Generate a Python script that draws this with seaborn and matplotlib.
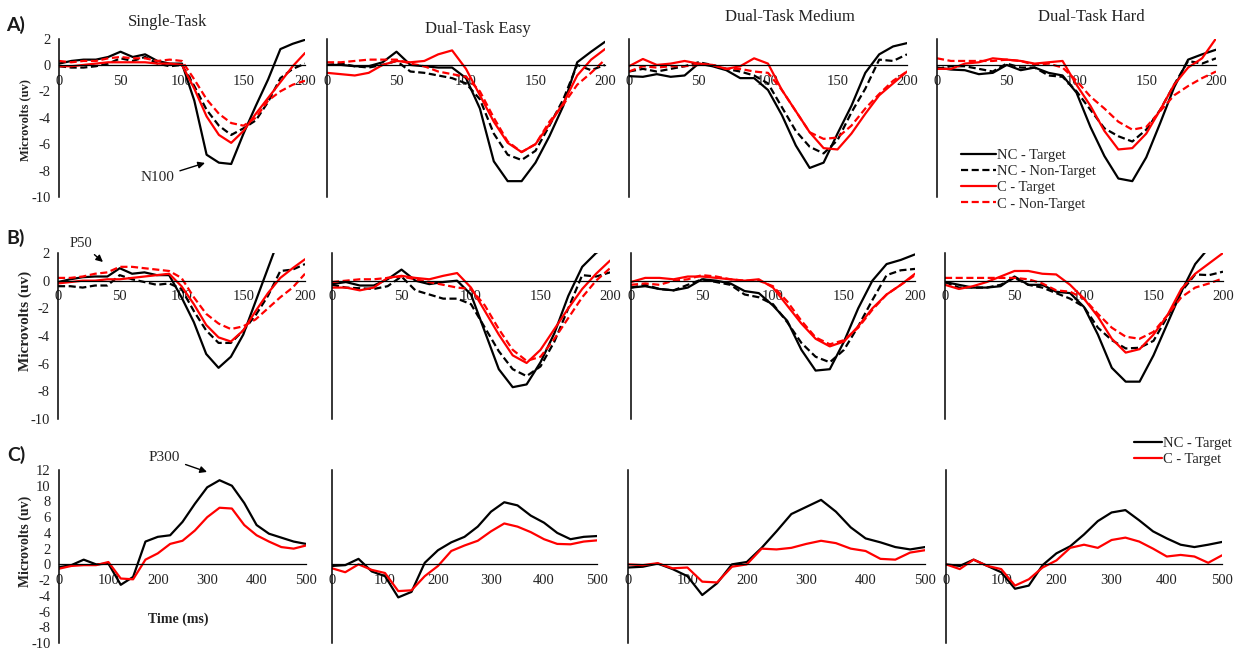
import numpy as np
import pandas as pd
import matplotlib
matplotlib.use("Agg")
import matplotlib.pyplot as plt
import seaborn as sns
from matplotlib.lines import Line2D

sns.set_theme(style="white")
plt.rcParams['font.family'] = ['Liberation Serif', 'DejaVu Serif']
plt.rcParams['axes.unicode_minus'] = False

# ---------------- data ----------------
t_short = np.arange(0, 201, 10)      # ms, rows A and B
t_long = np.arange(0, 501, 25)       # ms, row C

titles = ["Single-Task", "Dual-Task Easy", "Dual-Task Medium", "Dual-Task Hard"]
groups4 = ["NC - Target", "NC - Non-Target", "C - Target", "C - Non-Target"]
groups2 = ["NC - Target", "C - Target"]
x_ticks_short = [0, 50, 100, 150, 200]
x_ticks_long = [0, 100, 200, 300, 400, 500]

# Row A (N100)
a1_nc_t = [0.1, 0.3, 0.4, 0.4, 0.6, 1.0, 0.6, 0.8, 0.3, 0.1, 0.1, -2.7, -6.8, -7.4, -7.5, -5.2, -3.1, -1.1, 1.2, 1.6, 1.9]
a1_nc_nt = [-0.1, -0.2, -0.2, -0.1, 0.1, 0.5, 0.3, 0.6, 0.1, -0.1, 0.0, -1.6, -3.4, -4.6, -5.3, -4.8, -4.2, -2.8, -1.0, -0.3, 0.1]
a1_c_t = [-0.1, -0.1, 0.0, 0.1, 0.2, 0.2, 0.2, 0.2, 0.1, 0.1, 0.0, -1.8, -3.9, -5.3, -5.9, -5.0, -3.7, -2.5, -1.3, -0.1, 0.9]
a1_c_nt = [0.3, 0.2, 0.3, 0.3, 0.5, 0.6, 0.5, 0.5, 0.3, 0.4, 0.3, -1.1, -2.6, -3.7, -4.4, -4.6, -4.0, -2.7, -2.0, -1.5, -1.2]

a2_nc_t = [0.0, 0.0, -0.1, -0.1, 0.2, 1.0, 0.0, -0.1, -0.2, -0.2, -1.0, -3.3, -7.3, -8.8, -8.8, -7.4, -5.4, -3.1, 0.2, 1.0, 1.75]
a2_nc_nt = [0.0, 0.1, -0.1, -0.2, 0.0, 0.3, -0.5, -0.6, -0.8, -1.0, -1.4, -2.6, -5.2, -6.8, -7.2, -6.5, -4.6, -2.6, 0.0, -0.4, 0.0]
a2_c_t = [-0.6, -0.7, -0.8, -0.6, 0.0, 0.3, 0.2, 0.3, 0.8, 1.1, -0.3, -2.3, -4.3, -5.9, -6.6, -6.0, -4.5, -2.9, -0.8, 0.4, 1.2]
a2_c_nt = [0.2, 0.2, 0.3, 0.4, 0.4, 0.4, 0.1, -0.1, -0.5, -0.7, -0.9, -2.0, -4.0, -5.8, -6.6, -6.0, -4.3, -3.0, -1.5, -0.6, 0.4]

a3_nc_t = [-0.85, -0.9, -0.7, -0.9, -0.8, 0.1, -0.1, -0.4, -1.0, -1.0, -1.9, -3.8, -6.1, -7.8, -7.4, -5.2, -3.1, -0.6, 0.8, 1.4, 1.65]
a3_nc_nt = [-0.5, -0.3, -0.5, -0.3, -0.1, 0.2, 0.0, -0.3, -0.5, -0.8, -1.4, -3.2, -5.0, -6.2, -6.7, -5.7, -3.6, -1.8, 0.4, 0.3, 0.8]
a3_c_t = [-0.1, 0.45, 0.0, 0.1, 0.3, 0.1, 0.0, -0.3, -0.1, 0.5, 0.1, -1.9, -3.5, -5.1, -6.3, -6.4, -5.2, -3.7, -2.3, -1.4, -0.5]
a3_c_nt = [-0.5, -0.1, -0.2, -0.1, -0.1, 0.0, 0.0, -0.3, -0.3, -0.5, -0.6, -1.9, -3.5, -5.1, -5.6, -5.5, -4.6, -3.3, -2.2, -1.2, -0.5]

a4_nc_t = [-0.2, -0.35, -0.4, -0.7, -0.6, 0.0, -0.4, -0.2, -0.6, -0.8, -2.1, -4.7, -6.9, -8.6, -8.8, -7.0, -4.4, -1.7, 0.4, 0.8, 1.15]
a4_nc_nt = [-0.3, -0.1, -0.1, -0.3, -0.5, 0.1, -0.2, -0.2, -0.8, -0.9, -2.0, -3.4, -4.8, -5.4, -5.8, -4.9, -3.4, -1.5, 0.3, 0.1, 0.5]
a4_c_t = [-0.3, -0.3, 0.1, 0.2, 0.5, 0.4, 0.3, 0.1, 0.2, 0.3, -1.5, -3.1, -5.0, -6.4, -6.3, -5.2, -3.4, -1.5, -0.2, 0.5, 2.0]
a4_c_nt = [0.5, 0.3, 0.3, 0.3, 0.3, 0.4, 0.3, 0.0, 0.1, -0.2, -1.2, -2.4, -3.3, -4.3, -4.9, -4.7, -3.5, -2.3, -1.6, -1.0, -0.5]

# Row B (P50)
b1_nc_t = [-0.1, 0.1, 0.25, 0.3, 0.3, 0.9, 0.5, 0.6, 0.4, 0.4, -1.2, -3.0, -5.3, -6.3, -5.5, -3.9, -1.5, 0.9, 3.3, np.nan, np.nan]
b1_nc_nt = [-0.4, -0.4, -0.5, -0.35, -0.35, 0.4, 0.1, -0.1, -0.3, -0.2, -0.6, -2.2, -3.6, -4.5, -4.5, -3.6, -2.5, -1.1, 0.7, 0.8, 1.2]
b1_c_t = [-0.2, -0.1, 0.0, 0.0, 0.1, 0.1, 0.2, 0.3, 0.4, 0.5, -0.4, -1.7, -3.2, -4.1, -4.4, -3.6, -2.2, -0.9, 0.2, 0.9, 1.55]
b1_c_nt = [0.2, 0.2, 0.3, 0.5, 0.6, 1.0, 1.0, 0.9, 0.8, 0.7, 0.2, -1.2, -2.4, -3.1, -3.5, -3.3, -2.8, -2.0, -1.2, -0.5, 0.5]

b2_nc_t = [-0.25, -0.1, -0.35, -0.35, 0.1, 0.8, 0.0, -0.25, -0.1, 0.0, -1.0, -3.7, -6.4, -7.7, -7.5, -5.9, -3.8, -1.1, 1.0, 2.0, 2.6]
b2_nc_nt = [-0.3, -0.5, -0.55, -0.6, -0.4, 0.3, -0.7, -1.0, -1.3, -1.3, -1.7, -3.4, -5.1, -6.4, -6.9, -6.2, -4.4, -2.0, 0.4, 0.3, 0.6]
b2_c_t = [-0.5, -0.5, -0.7, -0.5, 0.2, 0.35, 0.2, 0.1, 0.35, 0.55, -0.5, -2.2, -3.9, -5.4, -5.95, -5.0, -3.5, -2.0, -0.6, 0.5, 1.45]
b2_c_nt = [-0.1, 0.0, 0.1, 0.1, 0.2, 0.3, 0.1, -0.1, -0.3, -0.5, -0.6, -1.8, -3.5, -5.0, -5.8, -5.5, -4.2, -2.7, -1.2, 0.0, 0.9]

b3_nc_t = [-0.5, -0.4, -0.6, -0.7, -0.5, 0.1, 0.0, -0.2, -0.75, -0.9, -1.8, -2.9, -5.0, -6.5, -6.4, -4.4, -2.0, 0.0, 1.2, 1.5, 1.9]
b3_nc_nt = [-0.5, -0.3, -0.6, -0.7, -0.3, 0.1, -0.1, -0.3, -1.0, -1.2, -1.7, -3.0, -4.5, -5.5, -5.9, -5.0, -3.3, -1.4, 0.4, 0.75, 0.85]
b3_c_t = [-0.1, 0.2, 0.2, 0.1, 0.3, 0.3, 0.2, 0.1, 0.0, 0.1, -0.5, -1.8, -3.1, -4.2, -4.75, -4.4, -3.3, -2.0, -1.0, -0.3, 0.5]
b3_c_nt = [-0.3, -0.2, -0.3, 0.0, 0.1, 0.4, 0.3, 0.1, 0.0, 0.0, -0.4, -1.5, -2.9, -4.1, -4.6, -4.3, -3.4, -2.1, -1.0, -0.3, 0.4]

b4_nc_t = [-0.1, -0.3, -0.5, -0.5, -0.4, 0.3, -0.3, -0.3, -0.8, -0.9, -1.9, -3.9, -6.3, -7.3, -7.3, -5.4, -3.1, -0.8, 1.2, 2.4, np.nan]
b4_nc_nt = [-0.1, -0.5, -0.5, -0.5, -0.3, 0.2, -0.3, -0.5, -0.9, -1.3, -1.9, -3.4, -4.3, -4.9, -4.85, -4.35, -2.6, -0.8, 0.45, 0.4, 0.65]
b4_c_t = [-0.3, -0.6, -0.4, -0.1, 0.3, 0.7, 0.7, 0.5, 0.45, -0.3, -1.3, -2.6, -4.2, -5.2, -4.95, -3.9, -2.5, -0.6, 0.5, 1.25, 2.0]
b4_c_nt = [0.2, 0.2, 0.2, 0.2, 0.2, 0.2, 0.1, -0.2, -0.7, -0.8, -1.3, -2.4, -3.4, -4.05, -4.2, -3.7, -2.5, -1.2, -0.5, -0.2, 0.17]

# Row C (P300)
c1_nc_t = [-0.35, -0.1, 0.6, 0.0, 0.1, -2.6, -1.6, 2.9, 3.5, 3.7, 5.4, 7.7, 9.8, 10.7, 10.0, 7.8, 5.0, 3.9, 3.4, 2.9, 2.6]
c1_c_t = [-0.55, -0.2, -0.1, -0.1, 0.3, -1.8, -1.9, 0.6, 1.4, 2.6, 3.0, 4.3, 6.0, 7.2, 7.1, 5.0, 3.7, 2.9, 2.2, 2.0, 2.4]
c2_nc_t = [-0.2, -0.1, 0.7, -0.9, -1.5, -4.2, -3.5, 0.2, 1.8, 2.8, 3.5, 4.8, 6.7, 7.9, 7.5, 6.2, 5.3, 4.0, 3.2, 3.5, 3.6]
c2_c_t = [-0.5, -1.0, 0.0, -0.7, -1.1, -3.4, -3.3, -1.5, -0.2, 1.7, 2.4, 3.0, 4.2, 5.2, 4.8, 4.1, 3.2, 2.6, 2.55, 2.9, 3.05]
c3_nc_t = [-0.4, -0.3, 0.1, -0.6, -1.5, -3.9, -2.4, 0.0, 0.3, 2.1, 4.2, 6.4, 7.3, 8.2, 6.7, 4.7, 3.3, 2.8, 2.2, 1.9, 2.2]
c3_c_t = [0.0, -0.1, 0.15, -0.5, -0.4, -2.2, -2.3, -0.3, 0.0, 2.0, 1.9, 2.1, 2.6, 3.0, 2.7, 2.0, 1.7, 0.7, 0.6, 1.5, 1.8]
c4_nc_t = [0.0, -0.2, 0.6, -0.2, -1.0, -3.1, -2.7, -0.1, 1.4, 2.3, 3.8, 5.5, 6.6, 6.9, 5.6, 4.2, 3.3, 2.5, 2.2, 2.5, 2.85]
c4_c_t = [0.0, -0.6, 0.6, -0.2, -0.6, -2.7, -1.9, -0.4, 0.5, 2.1, 2.5, 2.1, 3.1, 3.4, 2.9, 2.0, 1.0, 1.2, 1.0, 0.2, 1.15]

row_a = [[a1_nc_t, a1_nc_nt, a1_c_t, a1_c_nt], [a2_nc_t, a2_nc_nt, a2_c_t, a2_c_nt],
         [a3_nc_t, a3_nc_nt, a3_c_t, a3_c_nt], [a4_nc_t, a4_nc_nt, a4_c_t, a4_c_nt]]
row_b = [[b1_nc_t, b1_nc_nt, b1_c_t, b1_c_nt], [b2_nc_t, b2_nc_nt, b2_c_t, b2_c_nt],
         [b3_nc_t, b3_nc_nt, b3_c_t, b3_c_nt], [b4_nc_t, b4_nc_nt, b4_c_t, b4_c_nt]]
row_c = [[c1_nc_t, c1_c_t], [c2_nc_t, c2_c_t], [c3_nc_t, c3_c_t], [c4_nc_t, c4_c_t]]

# ---------------- styling ----------------
palette = {"NC - Target": "#000000", "NC - Non-Target": "#000000",
           "C - Target": "#ff0000", "C - Non-Target": "#ff0000"}
DASH = (3.2, 1.6)
dashes = {"NC - Target": "", "NC - Non-Target": DASH,
          "C - Target": "", "C - Non-Target": DASH}
LW = 1.6
W, H = 1239.0, 651.0
SERIF = ['Liberation Serif', 'DejaVu Serif']

fig = plt.figure(figsize=(W / 100, H / 100), dpi=100)

layout = [
    dict(top=38.5, bottom=197, cols=[(59, 305), (327, 605), (629, 907), (937, 1216)]),
    dict(top=253, bottom=419, cols=[(58, 305), (332, 610), (631, 915), (945, 1223)]),
    dict(top=470, bottom=643, cols=[(59, 306), (332, 597), (628, 925), (946, 1222)]),
]


def make_ax(lpx, rpx, top, bottom):
    return fig.add_axes([lpx / W, 1 - bottom / H, (rpx - lpx) / W, (bottom - top) / H])


def style_ax(ax, xmax, xticks, ylo, yhi, first, ticks_x):
    ax.set_xlim(0, xmax)
    ax.set_ylim(ylo, yhi)
    ax.patch.set_alpha(0)
    for s in ["top", "right"]:
        ax.spines[s].set_visible(False)
    ax.spines["bottom"].set_position(("data", 0))
    ax.spines["bottom"].set_linewidth(0.9)
    ax.spines["left"].set_linewidth(1.1)
    ax.spines["bottom"].set_color("black")
    ax.spines["left"].set_color("black")
    ax.set_xticks(xticks)
    ax.set_yticks(np.arange(ylo, yhi + 1, 2))
    ax.tick_params(axis="y", direction="out", length=4, width=1.0, pad=2,
                   labelsize=10.5, labelleft=first, colors="#222222")
    ax.tick_params(axis="x", direction="in", length=3 if ticks_x else 0, width=0.9,
                   pad=7, labelsize=10.5, colors="#222222")
    ax.set_xlabel("")
    ax.set_ylabel("")


def draw_panel(ax, t, series, groups):
    df = pd.DataFrame({
        "time": np.tile(t, len(groups)),
        "uv": np.concatenate([np.asarray(s, dtype=float) for s in series]),
        "group": np.repeat(groups, len(t)),
    })
    sns.lineplot(data=df, x="time", y="uv", hue="group", style="group",
                 hue_order=groups, style_order=groups,
                 palette={g: palette[g] for g in groups},
                 dashes={g: dashes[g] for g in groups},
                 linewidth=LW, errorbar=None, legend=False, ax=ax)


axes = []
for r, (spec, data) in enumerate(zip(layout, [row_a, row_b, row_c])):
    row_axes = []
    for c, (lp, rp) in enumerate(spec["cols"]):
        ax = make_ax(lp, rp, spec["top"], spec["bottom"])
        if r < 2:
            draw_panel(ax, t_short, data[c], groups4)
            style_ax(ax, 200, x_ticks_short, -10, 2, c == 0, False)
        else:
            draw_panel(ax, t_long, data[c], groups2)
            style_ax(ax, 500, x_ticks_long, -10, 12, c == 0, True)
        row_axes.append(ax)
    axes.append(row_axes)

# titles (row A only)
title_pos = [(168, 22), (478, 29), (790, 17), (1091, 17)]
for ttl, (px, py) in zip(titles, title_pos):
    fig.text(px / W, 1 - py / H, ttl, ha="center", va="center", fontsize=12,
             family=SERIF, color="#222222")

# row letters
for lab, py in zip(["A)", "B)", "C)"], [25, 238, 455]):
    fig.text(16 / W, 1 - py / H, lab, ha="center", va="center", fontsize=14,
             fontweight="bold", family=["Lato", "DejaVu Sans"], color="#1a1a1a")

# y labels
for py, fs in zip([120, 321, 541], [9, 11, 10]):
    fig.text(25 / W, 1 - py / H, "Microvolts (uv)", rotation=90, ha="center", va="center",
             fontsize=fs, fontweight="bold", family=SERIF, color="#222222")

fig.text(178 / W, 1 - 619 / H, "Time (ms)", ha="center", va="center", fontsize=10,
         fontweight="bold", family=SERIF, color="#222222")

# annotations
arrow = dict(arrowstyle="-|>", color="black", lw=1.0, mutation_scale=10, shrinkA=2, shrinkB=0)
axes[0][0].annotate("N100", xy=(118.7, -7.42), xytext=(79.7, -8.56), fontsize=11,
                    ha="center", va="center", arrowprops=arrow, annotation_clip=False)
axes[1][0].annotate("P50", xy=(36.4, 1.35), xytext=(18.6, 2.72), fontsize=10.5,
                    ha="center", va="center", arrowprops=arrow, annotation_clip=False)
axes[2][0].annotate("P300", xy=(299.6, 11.75), xytext=(212.5, 13.65), fontsize=11,
                    ha="center", va="center", arrowprops=arrow, annotation_clip=False)

# legends
handles4 = [Line2D([], [], color=palette[g], lw=LW,
                   linestyle="-" if dashes[g] == "" else (0, DASH)) for g in groups4]
fig.legend(handles4, groups4, loc="upper left", bbox_to_anchor=(961 / W, 1 - 149 / H),
           frameon=False, fontsize=10.5, handlelength=2.4, handletextpad=0.1,
           labelspacing=0.2, borderpad=0, borderaxespad=0)
handles2 = [Line2D([], [], color=palette[g], lw=LW) for g in groups2]
fig.legend(handles2, groups2, loc="upper left", bbox_to_anchor=(1134 / W, 1 - 437 / H),
           frameon=False, fontsize=10.5, handlelength=1.9, handletextpad=0.1,
           labelspacing=0.2, borderpad=0, borderaxespad=0)

fig.savefig("out.png", dpi=100, facecolor="white")
